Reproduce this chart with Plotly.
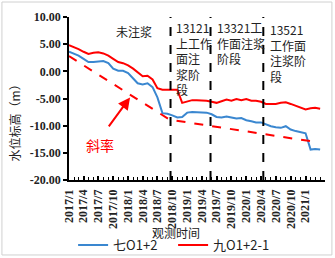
import plotly.graph_objects as go
import pandas as pd

# ---------------- data ----------------
months = pd.date_range("2017-01-01", periods=52, freq="MS")

blue_name = "七O1+2"
blue_vals = [3.6, 3.3, 2.9, 2.3, 1.7, 1.7, 1.8, 1.9, 1.5, 0.5,
             0.1, 0.1, -0.3, -1.3, -2.2, -2.4, -2.2, -2.9, -4.8, -7.7,
             -7.8, -8.1, -8.5, -8.4, -7.6, -7.5, -7.5, -7.5, -7.6, -7.9,
             -8.4, -8.5, -8.3, -8.5, -8.7, -8.6, -9.0, -9.2, -9.4, -9.4,
             -9.8, -10.1, -10.3, -10.4, -10.1, -10.7, -11.0, -11.2, -11.4, -14.4,
             -14.3, -14.4]

red_name = "九O1+2-1"
red_vals = [4.8, 4.5, 4.1, 3.6, 3.2, 3.4, 3.5, 3.3, 2.9, 2.3,
            1.7, 1.5, 1.1, 0.5, -0.2, -0.9, -0.8, -1.5, -3.1, -3.4,
            -3.4, -3.4, -3.4, -5.8, -5.5, -5.3, -5.3, -5.3, -5.4, -5.6,
            -5.8, -5.5, -5.2, -5.4, -5.1, -5.3, -5.1, -5.4, -5.4, -5.6,
            -6.0, -6.0, -6.0, -5.8, -5.7, -6.0, -6.3, -6.6, -7.0, -6.8,
            -6.7, -6.9]

# slope (trend) line
trend_dates = ["2017-01-01", "2018-09-15", "2021-02-10"]
trend_vals = [2.8, -8.9, -12.9]

# stage boundaries
stage_dates = ["2018-09-20", "2019-05-25", "2020-04-15"]

# x tick labels
tick_dates = pd.date_range("2017-01-01", "2021-01-01", freq="3MS")
tick_text = [f"{d.year}/{d.month}" for d in tick_dates]

y_ticks = [10, 5, 0, -5, -10, -15, -20]
y_text = ["10.00", "5.00", "0.00", "-5.00", "-10.00", "-15.00", "-20.00"]

# ---------------- figure ----------------
BLUE = "#3a87d0"
RED = "#ff0000"
CJK = "Noto Sans CJK SC"
SERIF = "Liberation Serif"

fig = go.Figure()
fig.add_trace(go.Scatter(x=months, y=blue_vals, mode="lines", name=blue_name,
                         line=dict(color=BLUE, width=2)))
fig.add_trace(go.Scatter(x=months, y=red_vals, mode="lines", name=red_name,
                         line=dict(color=RED, width=2)))
fig.add_trace(go.Scatter(x=pd.to_datetime(trend_dates), y=trend_vals, mode="lines",
                         showlegend=False, line=dict(color=RED, width=2, dash="dash")))

for d in stage_dates:
    fig.add_shape(type="line", xref="x", yref="paper", x0=d, x1=d, y0=0, y1=1,
                  line=dict(color="black", width=2, dash="dash"))

# outer border
fig.add_shape(type="rect", xref="paper", yref="paper",
              x0=-0.262, x1=1.027, y0=-0.46, y1=1.092,
              line=dict(color="#d0d0d0", width=1))

annots = [
    dict(x="2018-02-06", y=7.4, text="未注浆", xanchor="center", yanchor="middle"),
    dict(x="2018-10-10", y=10.0, text="13121<br>上工作<br>面注<br>浆阶<br>段",
         xanchor="left", yanchor="top", align="left"),
    dict(x="2019-06-20", y=10.0, text="13321工<br>作面注浆<br>阶段",
         xanchor="left", yanchor="top", align="left"),
    dict(x="2020-05-15", y=9.6, text="13521<br>工作面<br>注浆阶<br>段",
         xanchor="left", yanchor="top", align="left"),
]
for a in annots:
    fig.add_annotation(xref="x", yref="y", showarrow=False,
                       font=dict(family=CJK, size=12, color="#222"), **a)

# 斜率 arrow + label
fig.add_annotation(x="2018-01-13", y=-4.8, ax="2017-08-28", ay=-10.4,
                   xref="x", yref="y", axref="x", ayref="y", text="",
                   showarrow=True, arrowhead=2, arrowsize=1.2, arrowwidth=2,
                   arrowcolor=RED)
fig.add_annotation(x="2017-07-10", y=-13.5, xref="x", yref="y", text="斜率",
                   xanchor="center", yanchor="middle",
                   showarrow=False, font=dict(family=CJK, size=14, color=RED))

# axis titles
fig.add_annotation(xref="paper", yref="paper", x=0.418, y=-0.325, text="观测时间",
                   xanchor="center", yanchor="middle",
                   showarrow=False, font=dict(family=CJK, size=12, color="#222"))
fig.add_annotation(xref="paper", yref="paper", x=-0.212, y=0.37, text="水位标高（m）",
                   xanchor="center", yanchor="middle",
                   textangle=-90, showarrow=False,
                   font=dict(family=CJK, size=12, color="#222"))

fig.update_xaxes(range=["2017-01-01", "2021-05-01"], tickvals=tick_dates,
                 ticktext=tick_text, tickangle=-90, automargin=False,
                 tickfont=dict(family=SERIF, size=12, color="#222", weight="bold"),
                 ticklabelstandoff=3,
                 showline=True, linecolor="black", linewidth=1.5,
                 ticks="inside", ticklen=4, tickcolor="black", tickwidth=1.5,
                 minor=dict(dtick="M1", ticks="inside", ticklen=3,
                            tickcolor="black", tickwidth=1),
                 showgrid=False, zeroline=False)
fig.update_yaxes(range=[-20, 10], tickvals=y_ticks, ticktext=y_text, automargin=False,
                 tickfont=dict(family=SERIF, size=12, color="#222", weight="bold"),
                 showline=True, linecolor="black", linewidth=1.5,
                 ticks="outside", ticklen=4, tickcolor="black", tickwidth=1.5,
                 showgrid=False, zeroline=False)

fig.update_layout(width=335, height=258,
                  margin=dict(l=69, r=10, t=17, b=78, autoexpand=False),
                  paper_bgcolor="white", plot_bgcolor="white",
                  font=dict(family=CJK, size=12, color="#222"),
                  legend=dict(orientation="h", x=0.016, xanchor="left",
                              y=-0.399, yanchor="middle",
                              entrywidth=55, entrywidthmode="pixels",
                              font=dict(family=CJK, size=13, color="#222"),
                              bgcolor="rgba(0,0,0,0)"),
                  showlegend=True)

fig.write_html("out.html", config={"displayModeBar": False},
               post_script="document.body.style.margin='0px';document.body.style.overflow='hidden';")
